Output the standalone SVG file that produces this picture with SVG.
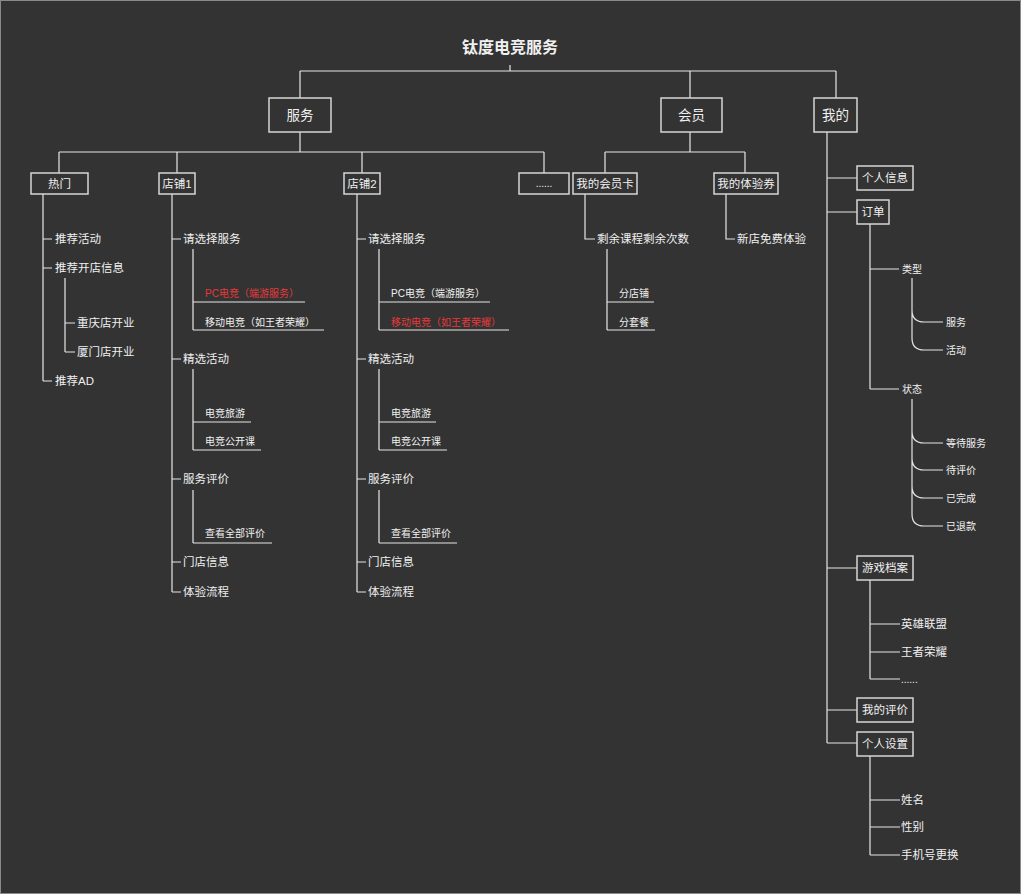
<svg xmlns="http://www.w3.org/2000/svg" width="1021" height="894" viewBox="0 0 1021 894">
<style>
.ln{stroke:#e6e6e6;stroke-width:1.2;fill:none}
.bx{fill:#333333;stroke:#d6d6d6;stroke-width:1.5}
text{font-family:"Liberation Sans","Noto Sans CJK SC",sans-serif;fill:#f0f0f0;dominant-baseline:central}
.c{text-anchor:middle}
.m{font-size:11.5px}
.s{font-size:10px}
.b{font-size:11.5px}
.big{font-size:13.5px}
.red{fill:#e5393b}
</style>
<rect x="0.5" y="0.5" width="1020" height="893" fill="#333333" stroke="#8a8a8a" stroke-width="1"/>
<g id="connectors">
<path class="ln" d="M510,65V71M300,71H836M300,71V98M690,71V98M836,71V98"/>
<path class="ln" d="M300,132V152M59,152H544M59,152V173M177,152V173M362,152V173M544,152V173"/>
<path class="ln" d="M690,132V152M605,152H745M605,152V173M745,152V173"/>
<path class="ln" d="M827,132V743M827,178H857M827,212H857M827,568H857M827,710H857M827,743H857"/>
<path class="ln" d="M43,194V381M43,239H52M43,268H52M43,381H52M65,278V352M65,323H75M65,352H75"/>
<path class="ln" d="M172,194V592M172,239H181M172,359H181M172,479H181M172,562H181M172,592H181"/>
<path class="ln" d="M193,249V330M193,302H305M193,330H324M193,369V450M193,422H251M193,450H261M193,490V543M193,543H272"/>
<path class="ln" d="M357,194V592M357,239H366M357,359H366M357,479H366M357,562H366M357,592H366"/>
<path class="ln" d="M379,249V330M379,302H490M379,330H509M379,369V450M379,422H436M379,450H447M379,490V543M379,543H457"/>
<path class="ln" d="M585,194V239H595M607,249V330M607,302H654M607,330H655M726,194V239H735"/>
<path class="ln" d="M870,224V389M870,269H899M870,389H899"/>
<path class="ln" d="M912,278V338M912,310Q912,322 924,322H943M912,338Q912,350 924,350H943"/>
<path class="ln" d="M912,399V514M912,431Q912,443 924,443H943M912,458Q912,470 924,470H943M912,486Q912,498 924,498H943M912,514Q912,526 924,526H943"/>
<path class="ln" d="M870,580V679M870,624H900M870,652H900M870,679H900"/>
<path class="ln" d="M870,756V855M870,800H900M870,827H900M870,855H900"/>
</g>
<g id="title"><text x="510" y="47" class="c" style="font-size:16px;font-weight:bold">钛度电竞服务</text></g>
<g id="n-fuwu"><rect class="bx" x="269" y="98" width="62" height="34"/><text x="300" y="115" class="c big">服务</text></g>
<g id="n-huiyuan"><rect class="bx" x="661" y="98" width="61" height="34"/><text x="691.5" y="115" class="c big">会员</text></g>
<g id="n-wode"><rect class="bx" x="814" y="98" width="43" height="34"/><text x="835.5" y="115" class="c big">我的</text></g>
<g id="n-remen"><rect class="bx" x="31" y="173" width="57" height="21"/><text x="59.5" y="183.5" class="c b">热门</text></g>
<g id="n-dianpu1"><rect class="bx" x="159" y="173" width="36" height="21"/><text x="177" y="183.5" class="c b">店铺1</text></g>
<g id="n-dianpu2"><rect class="bx" x="344" y="173" width="36" height="21"/><text x="362" y="183.5" class="c b">店铺2</text></g>
<g id="n-more"><rect class="bx" x="519" y="173" width="50" height="21"/><text x="544" y="183.5" class="c s">......</text></g>
<g id="n-huiyuanka"><rect class="bx" x="573" y="173" width="64" height="21"/><text x="605" y="183.5" class="c b">我的会员卡</text></g>
<g id="n-tiyanquan"><rect class="bx" x="714" y="173" width="64" height="21"/><text x="746" y="183.5" class="c b">我的体验券</text></g>
<g id="n-gerenxinxi"><rect class="bx" x="857" y="166" width="56" height="24"/><text x="885" y="178" class="c b">个人信息</text></g>
<g id="n-dingdan"><rect class="bx" x="857" y="200" width="32" height="24"/><text x="873" y="212" class="c b">订单</text></g>
<g id="n-youxidangan"><rect class="bx" x="857" y="556" width="56" height="24"/><text x="885" y="568" class="c b">游戏档案</text></g>
<g id="n-wodepingjia"><rect class="bx" x="857" y="698" width="56" height="24"/><text x="885" y="710" class="c b">我的评价</text></g>
<g id="n-gerenshezhi"><rect class="bx" x="857" y="732" width="56" height="24"/><text x="885" y="744" class="c b">个人设置</text></g>
<g id="remen-items">
<text x="55" y="239" class="m">推荐活动</text>
<text x="55" y="268" class="m">推荐开店信息</text>
<text x="77" y="323" class="m">重庆店开业</text>
<text x="77" y="352" class="m">厦门店开业</text>
<text x="55" y="381" class="m">推荐AD</text>
</g>
<g id="dianpu1-items">
<text x="183" y="239" class="m">请选择服务</text>
<text x="205" y="293" class="s red">PC电竞（端游服务）</text>
<text x="205" y="322" class="s">移动电竞（如王者荣耀）</text>
<text x="183" y="359" class="m">精选活动</text>
<text x="205" y="413" class="s">电竞旅游</text>
<text x="205" y="441" class="s">电竞公开课</text>
<text x="183" y="479" class="m">服务评价</text>
<text x="205" y="533" class="s">查看全部评价</text>
<text x="183" y="562" class="m">门店信息</text>
<text x="183" y="592" class="m">体验流程</text>
</g>
<g id="dianpu2-items">
<text x="368" y="239" class="m">请选择服务</text>
<text x="391" y="293" class="s">PC电竞（端游服务）</text>
<text x="391" y="322" class="s red">移动电竞（如王者荣耀）</text>
<text x="368" y="359" class="m">精选活动</text>
<text x="391" y="413" class="s">电竞旅游</text>
<text x="391" y="441" class="s">电竞公开课</text>
<text x="368" y="479" class="m">服务评价</text>
<text x="391" y="533" class="s">查看全部评价</text>
<text x="368" y="562" class="m">门店信息</text>
<text x="368" y="592" class="m">体验流程</text>
</g>
<g id="huiyuan-items">
<text x="597" y="239" class="m">剩余课程剩余次数</text>
<text x="619" y="293" class="s">分店铺</text>
<text x="619" y="322" class="s">分套餐</text>
<text x="737" y="239" class="m">新店免费体验</text>
</g>
<g id="dingdan-items">
<text x="902" y="269" class="s">类型</text>
<text x="946" y="322" class="s">服务</text>
<text x="946" y="350" class="s">活动</text>
<text x="902" y="389" class="s">状态</text>
<text x="946" y="443" class="s">等待服务</text>
<text x="946" y="470" class="s">待评价</text>
<text x="946" y="498" class="s">已完成</text>
<text x="946" y="526" class="s">已退款</text>
</g>
<g id="youxi-items">
<text x="901" y="624" class="m">英雄联盟</text>
<text x="901" y="652" class="m">王者荣耀</text>
<text x="901" y="679" class="s">......</text>
</g>
<g id="shezhi-items">
<text x="901" y="800" class="m">姓名</text>
<text x="901" y="827" class="m">性别</text>
<text x="901" y="855" class="m">手机号更换</text>
</g>
</svg>
